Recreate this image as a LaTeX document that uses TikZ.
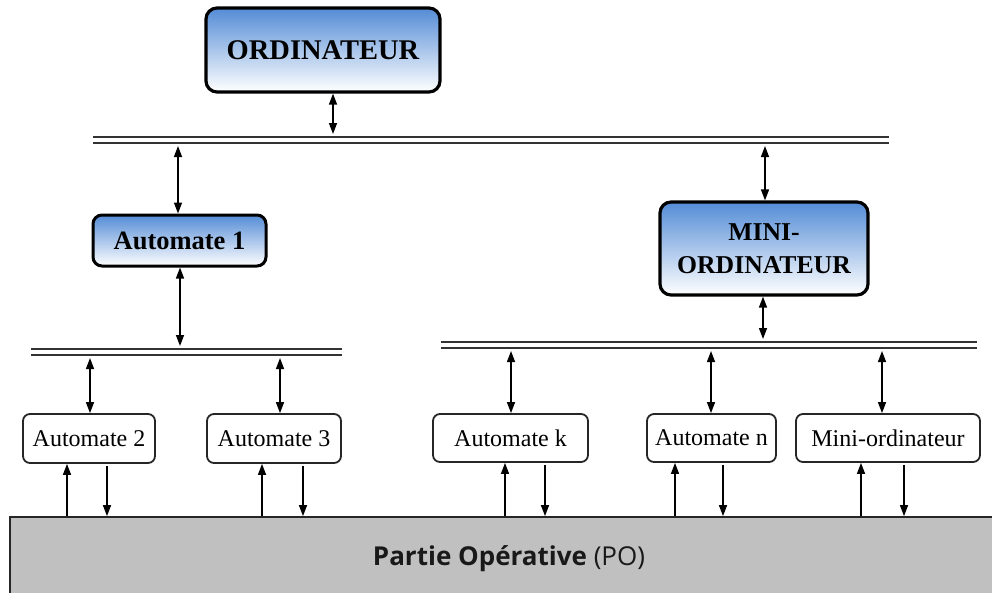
\documentclass[tikz,border=0pt]{standalone}
\usepackage{fontspec}
\setmainfont{Liberation Serif}
\newfontfamily\posans{Open Sans}
\usetikzlibrary{arrows.meta,calc}
\definecolor{boxblue}{RGB}{84,140,214}
\definecolor{pogray}{RGB}{192,192,192}
\begin{document}
\begin{tikzpicture}[x=1pt,y=-1pt,
  bigbox/.style={draw=black,line width=3.2pt,rounded corners=11pt,
    top color=boxblue,bottom color=white,align=center,inner sep=0pt},
  smallbox/.style={draw=black!85,line width=1.8pt,rounded corners=7pt,
    fill=white,inner sep=0pt,font=\fontsize{24}{27}\selectfont},
  busline/.style={line width=2.2pt,black!80},
  tip/.tip={Triangle[length=11pt,width=8pt]},
  link/.style={line width=1.4pt,tip-tip},
  flow/.style={line width=1.4pt,-tip},
]
\useasboundingbox (0,0) rectangle (992,592);

% main computer and its bus
\node[bigbox,minimum width=234pt,minimum height=84pt,
  font=\bfseries\fontsize{28.5}{31}\selectfont] (ord) at (323,50) {ORDINATEUR};
\coordinate (b1w) at (93,137);
\coordinate (b1e) at (889,137);
\draw[busline] (b1w) -- (b1e);
\draw[busline] ($(b1w)+(0,6)$) -- ($(b1e)+(0,6)$);
\coordinate (t1) at (333,134);
\draw[link] (ord.south -| t1) -- (t1);

% second level
\node[bigbox,line width=3pt,rounded corners=9pt,minimum width=173pt,minimum height=51pt,
  font=\bfseries\fontsize{26.5}{29}\selectfont] (a1) at (179.5,240.5) {Automate 1};
\node[bigbox,minimum width=208pt,minimum height=93pt,
  font=\bfseries\fontsize{25.7}{33}\selectfont] (mini) at (764,248.5) {MINI-\\ORDINATEUR};
\coordinate (b1a) at (178,146);
\coordinate (b1b) at (765,146);
\draw[link] (b1a) -- (a1.north -| b1a);
\draw[link] (b1b) -- (mini.north -| b1b);

% lower buses
\coordinate (b2w) at (31,349);
\coordinate (b2e) at (342,349);
\draw[busline] (b2w) -- (b2e);
\draw[busline] ($(b2w)+(0,6)$) -- ($(b2e)+(0,6)$);
\coordinate (b3w) at (441,342);
\coordinate (b3e) at (977,342);
\draw[busline] (b3w) -- (b3e);
\draw[busline] ($(b3w)+(0,6)$) -- ($(b3e)+(0,6)$);
\coordinate (t2) at (180,346);
\coordinate (t3) at (763,339);
\draw[link] (a1.south -| t2) -- (t2);
\draw[link] (mini.south -| t3) -- (t3);

% field-level devices
\node[smallbox,minimum width=132pt,minimum height=49pt] (a2) at (89,438.5) {Automate 2};
\node[smallbox,minimum width=134pt,minimum height=49pt] (a3) at (274,438.5) {Automate 3};
\node[smallbox,minimum width=155pt,minimum height=48pt] (ak) at (510.5,438) {Automate k};
\node[smallbox,minimum width=129pt,minimum height=48pt] (an) at (711.5,438) {Automate n};
\node[smallbox,minimum width=184pt,minimum height=48pt] (mo) at (888,438) {Mini-ordinateur};

\coordinate (s2) at (90,358);
\coordinate (s3) at (280,358);
\coordinate (sk) at (511,351);
\coordinate (sn) at (711,351);
\coordinate (sm) at (882,351);
\draw[link] (s2) -- (a2.north -| s2);
\draw[link] (s3) -- (a3.north -| s3);
\draw[link] (sk) -- (ak.north -| sk);
\draw[link] (sn) -- (an.north -| sn);
\draw[link] (sm) -- (mo.north -| sm);

% operative part
\node[draw=black!85,line width=1.8pt,fill=pogray,minimum width=998pt,minimum height=83pt,
  inner sep=0pt,font=\posans\fontsize{26}{29}\selectfont,text=black!90] (po) at (509,558.5)
  {\textbf{Partie Opérative} (PO)};

% signals between devices and the operative part
\foreach \dev/\ux/\dx in {a2/67/107,a3/262/303,ak/505/545,an/675/723,mo/861/904}{
  \coordinate (u) at (\ux,517);
  \coordinate (d) at (\dx,517);
  \draw[flow] (po.north -| u) -- (\dev.south -| u);
  \draw[flow,shorten <=2pt] (\dev.south -| d) -- (po.north -| d);
}
\end{tikzpicture}
\end{document}
